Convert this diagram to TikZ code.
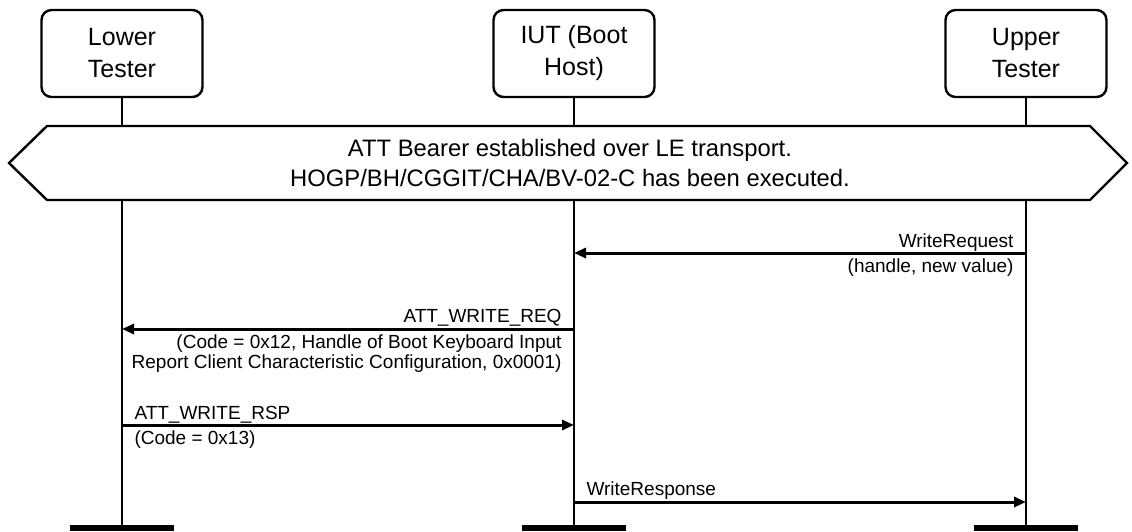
\documentclass[tikz,border=0pt]{standalone}
\usepackage{fontspec}
\setmainfont{Liberation Sans}
\usepackage{tikz}
\usetikzlibrary{arrows.meta, positioning, calc}

\begin{document}
\begin{tikzpicture}[x=1pt, y=-1pt, >={Triangle[length=12pt, width=10pt]}]
  \tikzset{
    lifebox/.style={draw, line width=2.4pt, rounded corners=10pt, minimum width=161pt, minimum height=87pt, align=center, font=\fontsize{25}{32}\selectfont},
    life/.style={line width=2pt},
    msg/.style={->, line width=3pt},
    lbl/.style={inner sep=0pt, font=\fontsize{19}{20}\selectfont},
    foot/.style={line width=6pt}
  }
  \useasboundingbox (0,0) rectangle (1132,531);

  % Instanzen
  \node[lifebox] (lt) at (122,53.5) {Lower\\Tester};
  \node[lifebox] (iut) at (574,53.5) {IUT (Boot\\Host)};
  \node[lifebox] (ut) at (1026,53.5) {Upper\\Tester};

  % Lebenslinien
  \foreach \n in {lt, iut, ut} {
    \coordinate (\n end) at (\n |- 0,528);
    \draw[life] (\n.south) -- (\n end);
    \draw[foot] ($(\n end)+(-52,0)$) -- ($(\n end)+(52,0)$);
  }

  % Vorbedingung
  \draw[line width=2.4pt, fill=white] (47,126) -- (1090,126) -- (1127,163) -- (1090,200) -- (47,200) -- (9,163) -- cycle;
  \node[align=center, inner sep=0pt, font=\fontsize{23.8}{30}\selectfont] (pre) at (570,163) {ATT Bearer established over LE transport.\\HOGP/BH/CGGIT/CHA/BV-02-C has been executed.};

  % Nachrichten
  \draw[msg] (ut |- 0,253) -- (iut |- 0,253)
    node[lbl, at start, anchor=base east, xshift=-11pt, yshift=6pt] (m1) {WriteRequest}
    node[lbl, at start, anchor=north east, xshift=-11pt, yshift=-4pt] (m1b) {(handle, new value)};
  \draw[msg] (iut |- 0,329) -- (lt |- 0,329)
    node[lbl, at start, anchor=base east, xshift=-11pt, yshift=7pt] (m2) {ATT\_WRITE\_REQ}
    node[lbl, at start, anchor=north east, xshift=-11pt, yshift=-4.5pt, align=right] (m2b) {(Code = 0x12, Handle of Boot Keyboard Input\\Report Client Characteristic Configuration, 0x0001)};
  \draw[msg] (lt |- 0,425) -- (iut |- 0,425)
    node[lbl, at start, anchor=base west, xshift=11pt, yshift=6pt] (m3) {ATT\_WRITE\_RSP}
    node[lbl, at start, anchor=north west, xshift=11pt, yshift=-4pt] (m3b) {(Code = 0x13)};
  \draw[msg] (iut |- 0,502) -- (ut |- 0,502)
    node[lbl, at start, anchor=base west, xshift=11pt, yshift=7pt] (m4) {WriteResponse};
\end{tikzpicture}
\end{document}
